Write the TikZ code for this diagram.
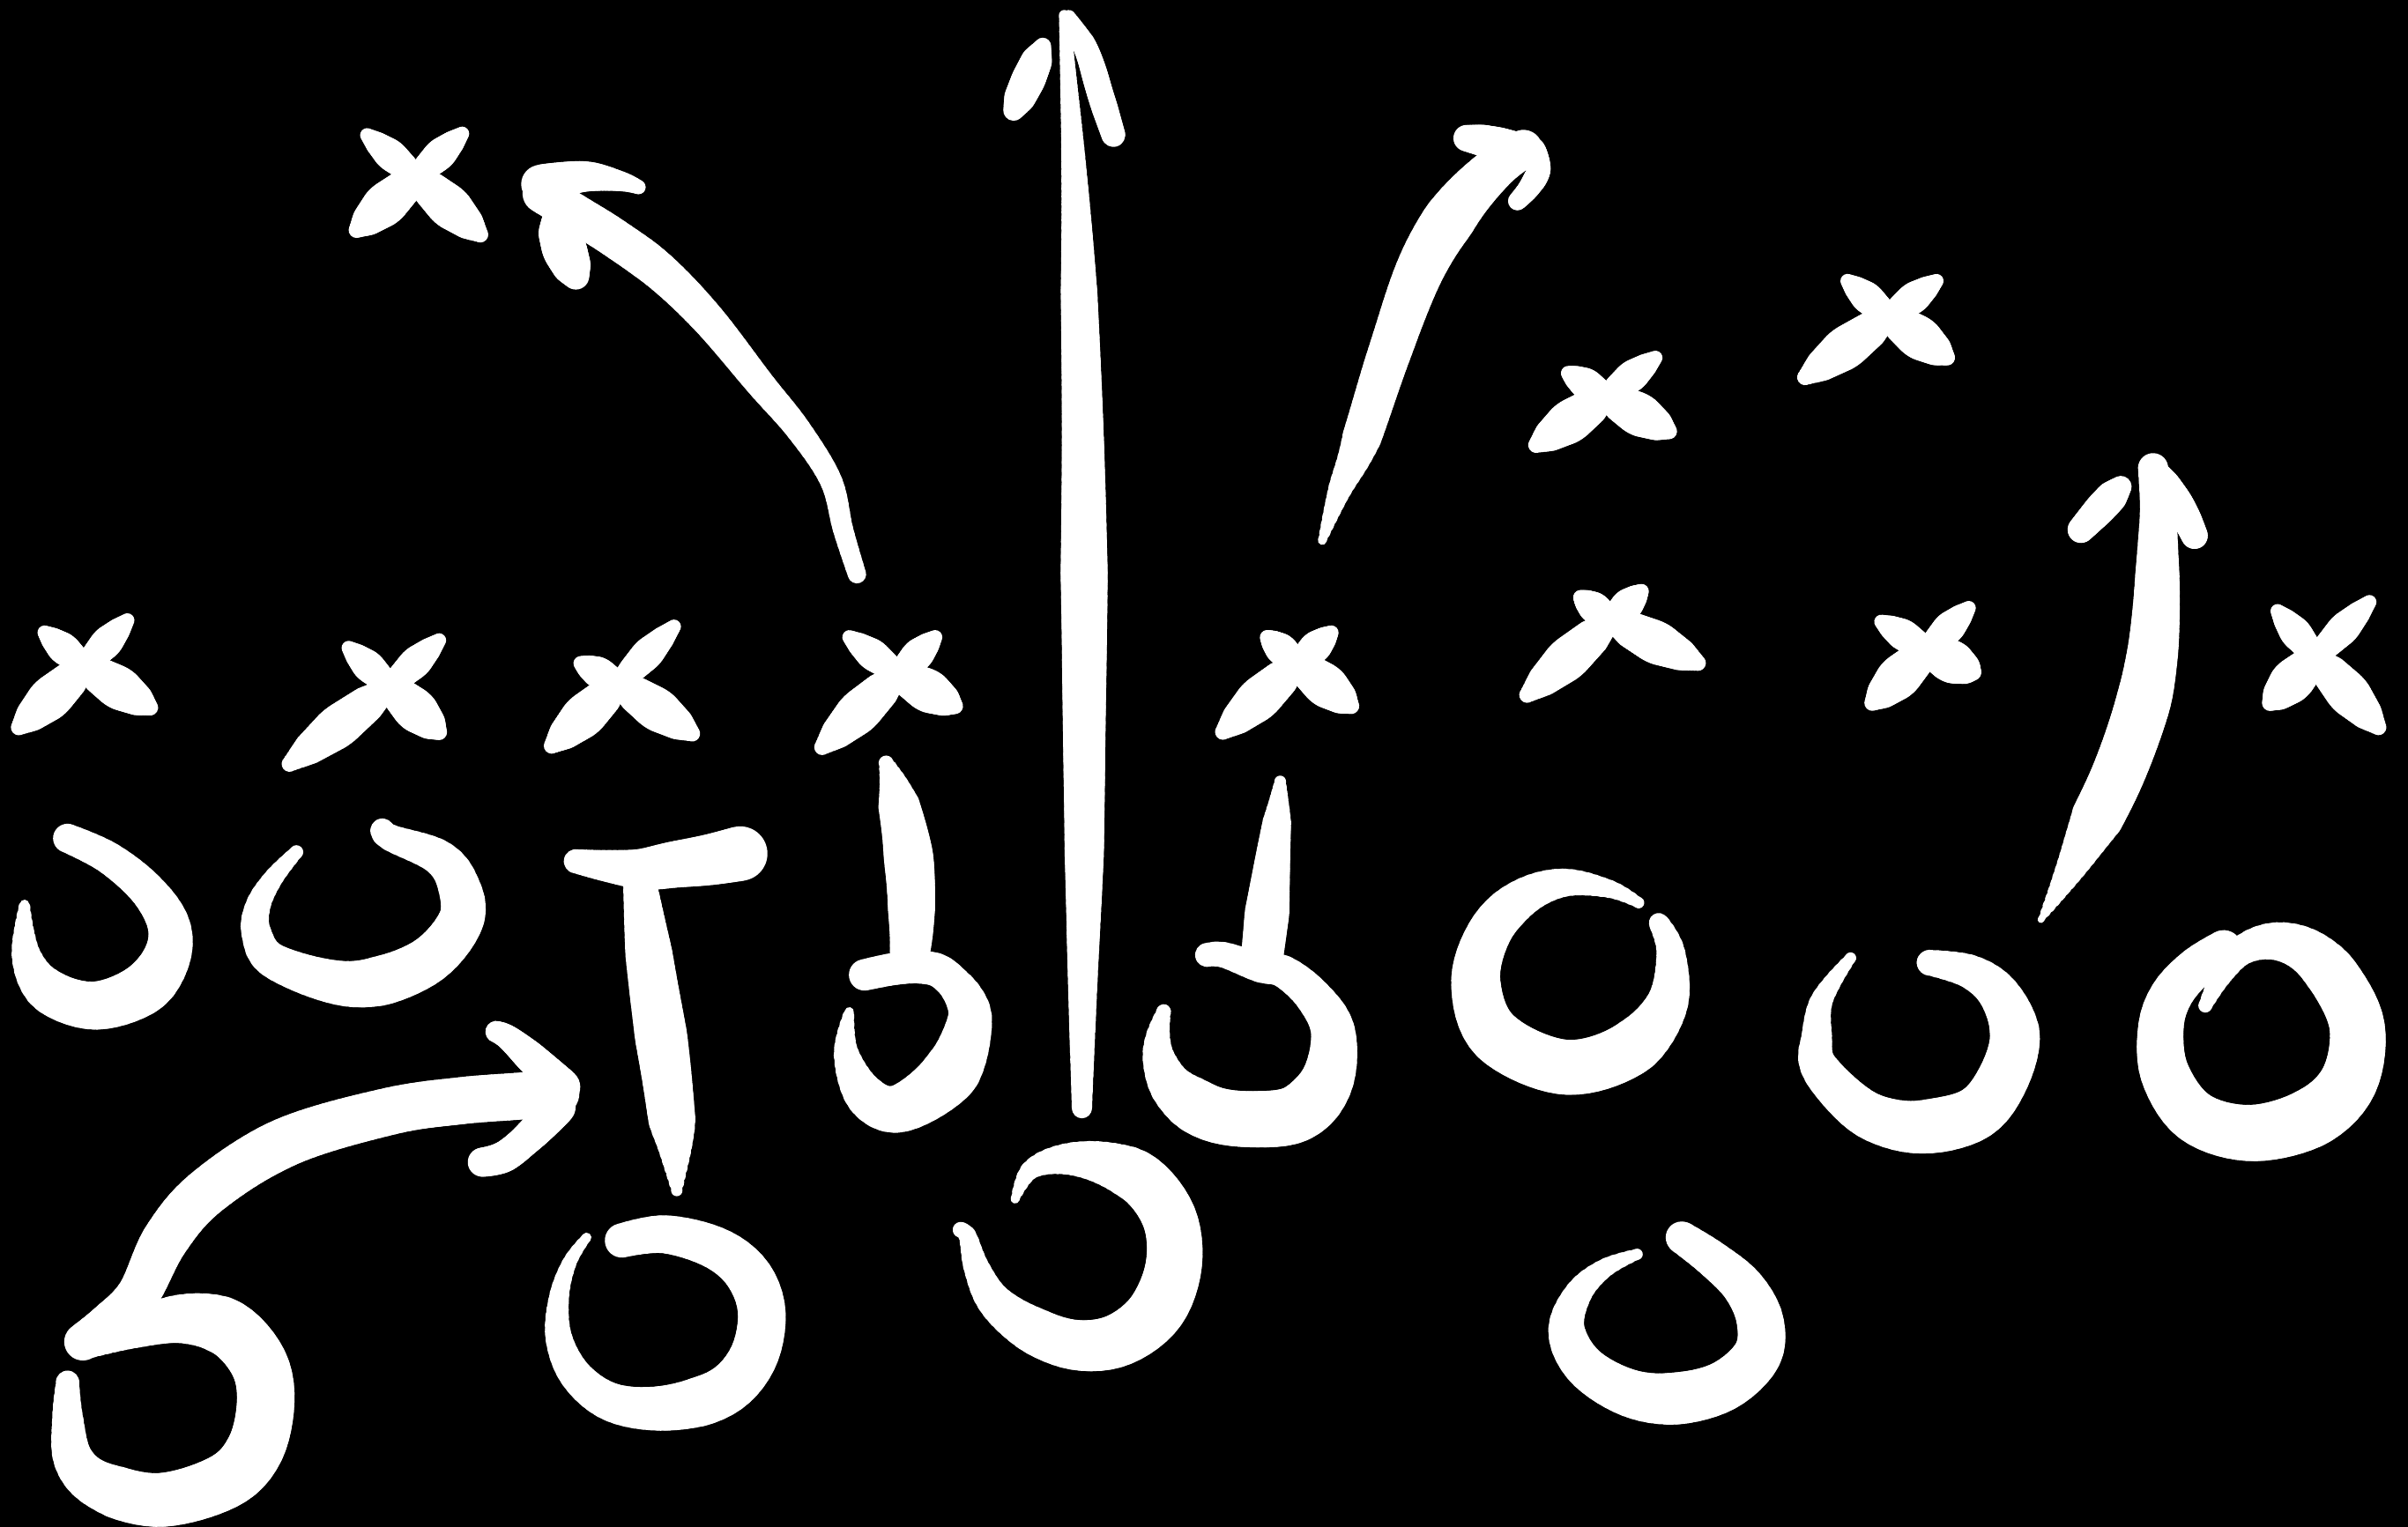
\documentclass[tikz,border=0pt]{standalone}
\def\bwscale{1.7}
% tapered brush stroke: drawn as many overlapping dash windows of growing/shrinking width
\newcommand\brushdraw[5]{%
  \pgfmathsetmacro\bLL{\bL*1.02}%
  \pgfmathsetmacro\boff{3*\bLL}%
  \pgfmathtruncatemacro\bN{max(30,min(150,\bL/5))}%
  \pgfmathtruncatemacro\bNm{\bN-1}%
  \foreach \k in {0,...,\bNm}{%
    \pgfmathsetmacro\bp{(\k+0.5)/\bN}%
    \pgfmathsetmacro\bw{\bwscale*((\bp<0.25)*((#1)+((#2)-(#1))*4*\bp)+(\bp>=0.25)*(\bp<0.5)*((#2)+((#3)-(#2))*(4*\bp-1))+(\bp>=0.5)*(\bp<0.75)*((#3)+((#4)-(#3))*(4*\bp-2))+(\bp>=0.75)*((#4)+((#5)-(#4))*(4*\bp-3)))}%
    \pgfmathsetmacro\bs{(\k/\bN)*\bLL}%
    \pgfmathsetmacro\bon{(\k==\bNm)*2*\bLL+(\k<\bNm)*(\bLL/\bN+0.5)}%
    \pgfmathsetmacro\bph{\bon+\boff-\bs}%
    \edef\bcmd{\noexpand\draw[white, line width=\bw pt, line cap=round, line join=round, dash pattern=on \bon pt off \boff pt, dash phase=\bph pt] plot[smooth, tension=0.6] coordinates {\bcoords};}%
    \bcmd
  }%
}
\newcommand\brushpath[2]{%
  \gdef\bL{0}\gdef\bcoords{}%
  \foreach \px/\py [count=\ci] in {#2}{%
    \ifnum\ci>1
      \pgfmathsetmacro\tmpL{\bL+veclen(\px-\bpx,\py-\bpy)}%
      \xdef\bL{\tmpL}%
    \fi
    \xdef\bpx{\px}\xdef\bpy{\py}%
    \xdef\bcoords{\bcoords(\px,\py)}%
  }%
  \brushdraw#1%
}
\newcommand\xpetal[3]{\brushpath{{7}{(#3)*0.85}{#3}{(#3)*0.75}{4.5}}{#1, #2}}
% center, UL, UR, LL, LR
\newcommand\playerx[5]{\xpetal{#1}{#2}{12}\xpetal{#1}{#3}{12}\xpetal{#1}{#4}{16.5}\xpetal{#1}{#5}{16.5}}
\begin{document}
\begin{tikzpicture}[x=1pt,y=-1pt]
\useasboundingbox (0,0) rectangle (1568,994.6);
\clip (0,0) rectangle (1568,994.6);
\fill[black] (-5,-5) rectangle (1573,1000);

% ---------- X marks ----------
\playerx{271/115}{239/88}{301/87}{232/150}{313/153}
\playerx{1046/258}{1021/243}{1078/233}{1000/290}{1087/281}
\playerx{1230/206}{1203/183}{1261/183}{1175/246}{1268/233}
\playerx{55/434}{29/412}{83/404}{12/474}{98/461}
\playerx{254/447}{227/422}{286/417}{188/498}{286/477}
\playerx{403/445}{378/432}{439/408}{359/486}{451/478}
\playerx{585/439}{553/415}{609/415}{535/487}{622/460}
\playerx{845/432}{825/415}{867/412}{796/477}{880/460}
\playerx{1049/404}{1029/389}{1069/385}{994/453}{1106/432}
\playerx{1255/423}{1225/405}{1282/396}{1219/458}{1285/438}
\playerx{1508/428}{1483/398}{1543/392}{1478/458}{1549/474}

% ---------- O marks ----------
\brushpath{{11}{14}{20}{17}{3}}{44/546, 71/559, 96/580, 110/603, 108/625, 92/645, 61/655, 31/645, 17/622, 16/589}
\brushpath{{5}{13}{19}{17}{9}}{193/555, 178/572, 168/590, 167/608, 180/627, 230/641, 275/628, 300/600, 298/575, 285/558, 255/546, 249/541}
\brushpath{{12}{13}{22}{16}{3}}{563/635, 583/631, 600/630, 614/634, 628/650, 631/668, 618/700, 586/722, 564/714, 551/686, 553/659}
\brushpath{{9}{14}{22}{21}{4}}{786/622, 797/622, 820/630, 836/633, 855/649, 868/672, 864/704, 845/725, 816/729, 788/725, 765/710, 755/691, 754/675, 758/658}
\brushpath{{4}{16}{21}{21}{7}}{1067/588, 1048/579, 1018/575, 991/585, 970/607, 961/640, 974/675, 1018/695, 1060/684, 1085/655, 1088/621, 1080/601}
\brushpath{{4}{15}{21}{19}{9}}{1205/624, 1193/640, 1185/655, 1183/675, 1184/694, 1205/718, 1225/730, 1252/734, 1285/726, 1303/705, 1312/675, 1302/648, 1283/633, 1256/627}
\brushpath{{5}{20}{23}{19}{14}}{1436/655, 1446/636, 1460/619, 1481/613, 1503/620, 1522/640, 1535/670, 1529/705, 1505/728, 1466/738, 1430/728, 1410/700, 1407/670, 1414/648, 1430/630, 1448/618}
\brushpath{{13}{18}{19}{12}{3}}{405/808, 433/804, 466/813, 487/830, 496/855, 490/885, 470/907, 435/917, 400/914, 376/897, 364/872, 364/845, 371/822, 382/806}
\brushpath{{3}{20}{22}{18}{5}}{661/781, 671/762, 693/755, 720/758, 745/770, 762/795, 764/826, 752/855, 728/873, 700/876, 672/866, 648/848, 636/826, 630/805, 625/801}
\brushpath{{4}{15}{20}{18}{12}}{1066/817, 1045/826, 1028/842, 1020/866, 1032/890, 1060/907, 1090/911, 1122/903, 1144/883, 1146/860, 1135/838, 1115/820, 1095/806}

% ---------- arrow A (curved, up-left) ----------
\brushpath{{7}{9}{12}{15}{15}}{558/374, 549/345, 541/313, 520/280, 495/250, 461/208, 430/177, 400/155, 376/140, 353/126}
\brushpath{{15}{13}{11}{8}{5}}{352/120, 380/115, 404/118, 416/122}
\brushpath{{8}{15}{17}{15}{9}}{360/143, 367/161, 375/180}

% ---------- arrow B (centre, vertical) ----------
\brushpath{{4}{14}{18}{15}{7}}{693/10, 696/56, 699/105, 702/172, 705/280, 706/383, 706/470, 706/559, 705/640, 704.5/722}
\brushpath{{5}{9}{10}{10}{9}}{696/11, 708/34, 717/63, 725/88}
\brushpath{{6}{12}{13}{12}{7}}{679/30, 670/51, 660/72}

% ---------- arrow C (up-right) ----------
\brushpath{{3}{15}{17}{20}{14}}{861/352, 872/320, 885/290, 904/232, 925/175, 948/137, 973/110, 992/97}
\brushpath{{10}{12}{12}{11}{9}}{955/90, 975/93, 996/97}
\brushpath{{10}{9}{9}{8}{7}}{998/98, 1002/110, 996/122, 988/131}

% ---------- arrow D (right, up) ----------
\brushpath{{2}{20}{21}{17}{11}}{1329/599, 1343/575, 1356/551, 1378/507, 1394/463, 1401/430, 1404/397, 1405/360, 1405/331, 1402/305}
\brushpath{{9}{11}{11}{11}{10}}{1403/306, 1412/318, 1420/330, 1429/349}
\brushpath{{8}{12}{12}{11}{10}}{1381/317, 1368/331, 1355/345}

% ---------- arrow E (T block) ----------
\brushpath{{9}{13}{17}{19}{21}}{375/561, 395/564, 418/566, 440/563, 462/560, 482/556}
\brushpath{{12}{18}{20}{18}{2}}{416/570, 421/610, 425.6/643, 430/672, 434/700, 437/725, 439.4/746, 440.7/776}

% ---------- arrows F and G (short blades) ----------
\brushpath{{5}{16}{19}{18}{15}}{577/497, 583/515, 590/547, 593/575, 593.5/604, 592.5/620}
\brushpath{{4}{11}{14}{17}{16}}{833.6/509, 832/530, 829/557, 825/595, 822/622}

% ---------- arrow H and the loop below it ----------
\brushpath{{18}{18}{19}{18}{14}}{362/712, 338/714, 300/717, 253/724, 186/744, 135/776, 108/807, 90/843, 70/862, 54/874}
\brushpath{{14}{13}{12}{10}{8}}{366/708, 347/690, 331/676, 323/672}
\brushpath{{14}{13}{12}{12}{11}}{363/721, 347/738, 329/753, 314/757}
\brushpath{{10}{22}{22}{20}{8}}{54/877, 86/866, 119/859, 148/865, 168/887, 173/913, 166/944, 146/965, 104/977, 66/968, 48/951, 44/923, 44/900}
\end{tikzpicture}
\end{document}
